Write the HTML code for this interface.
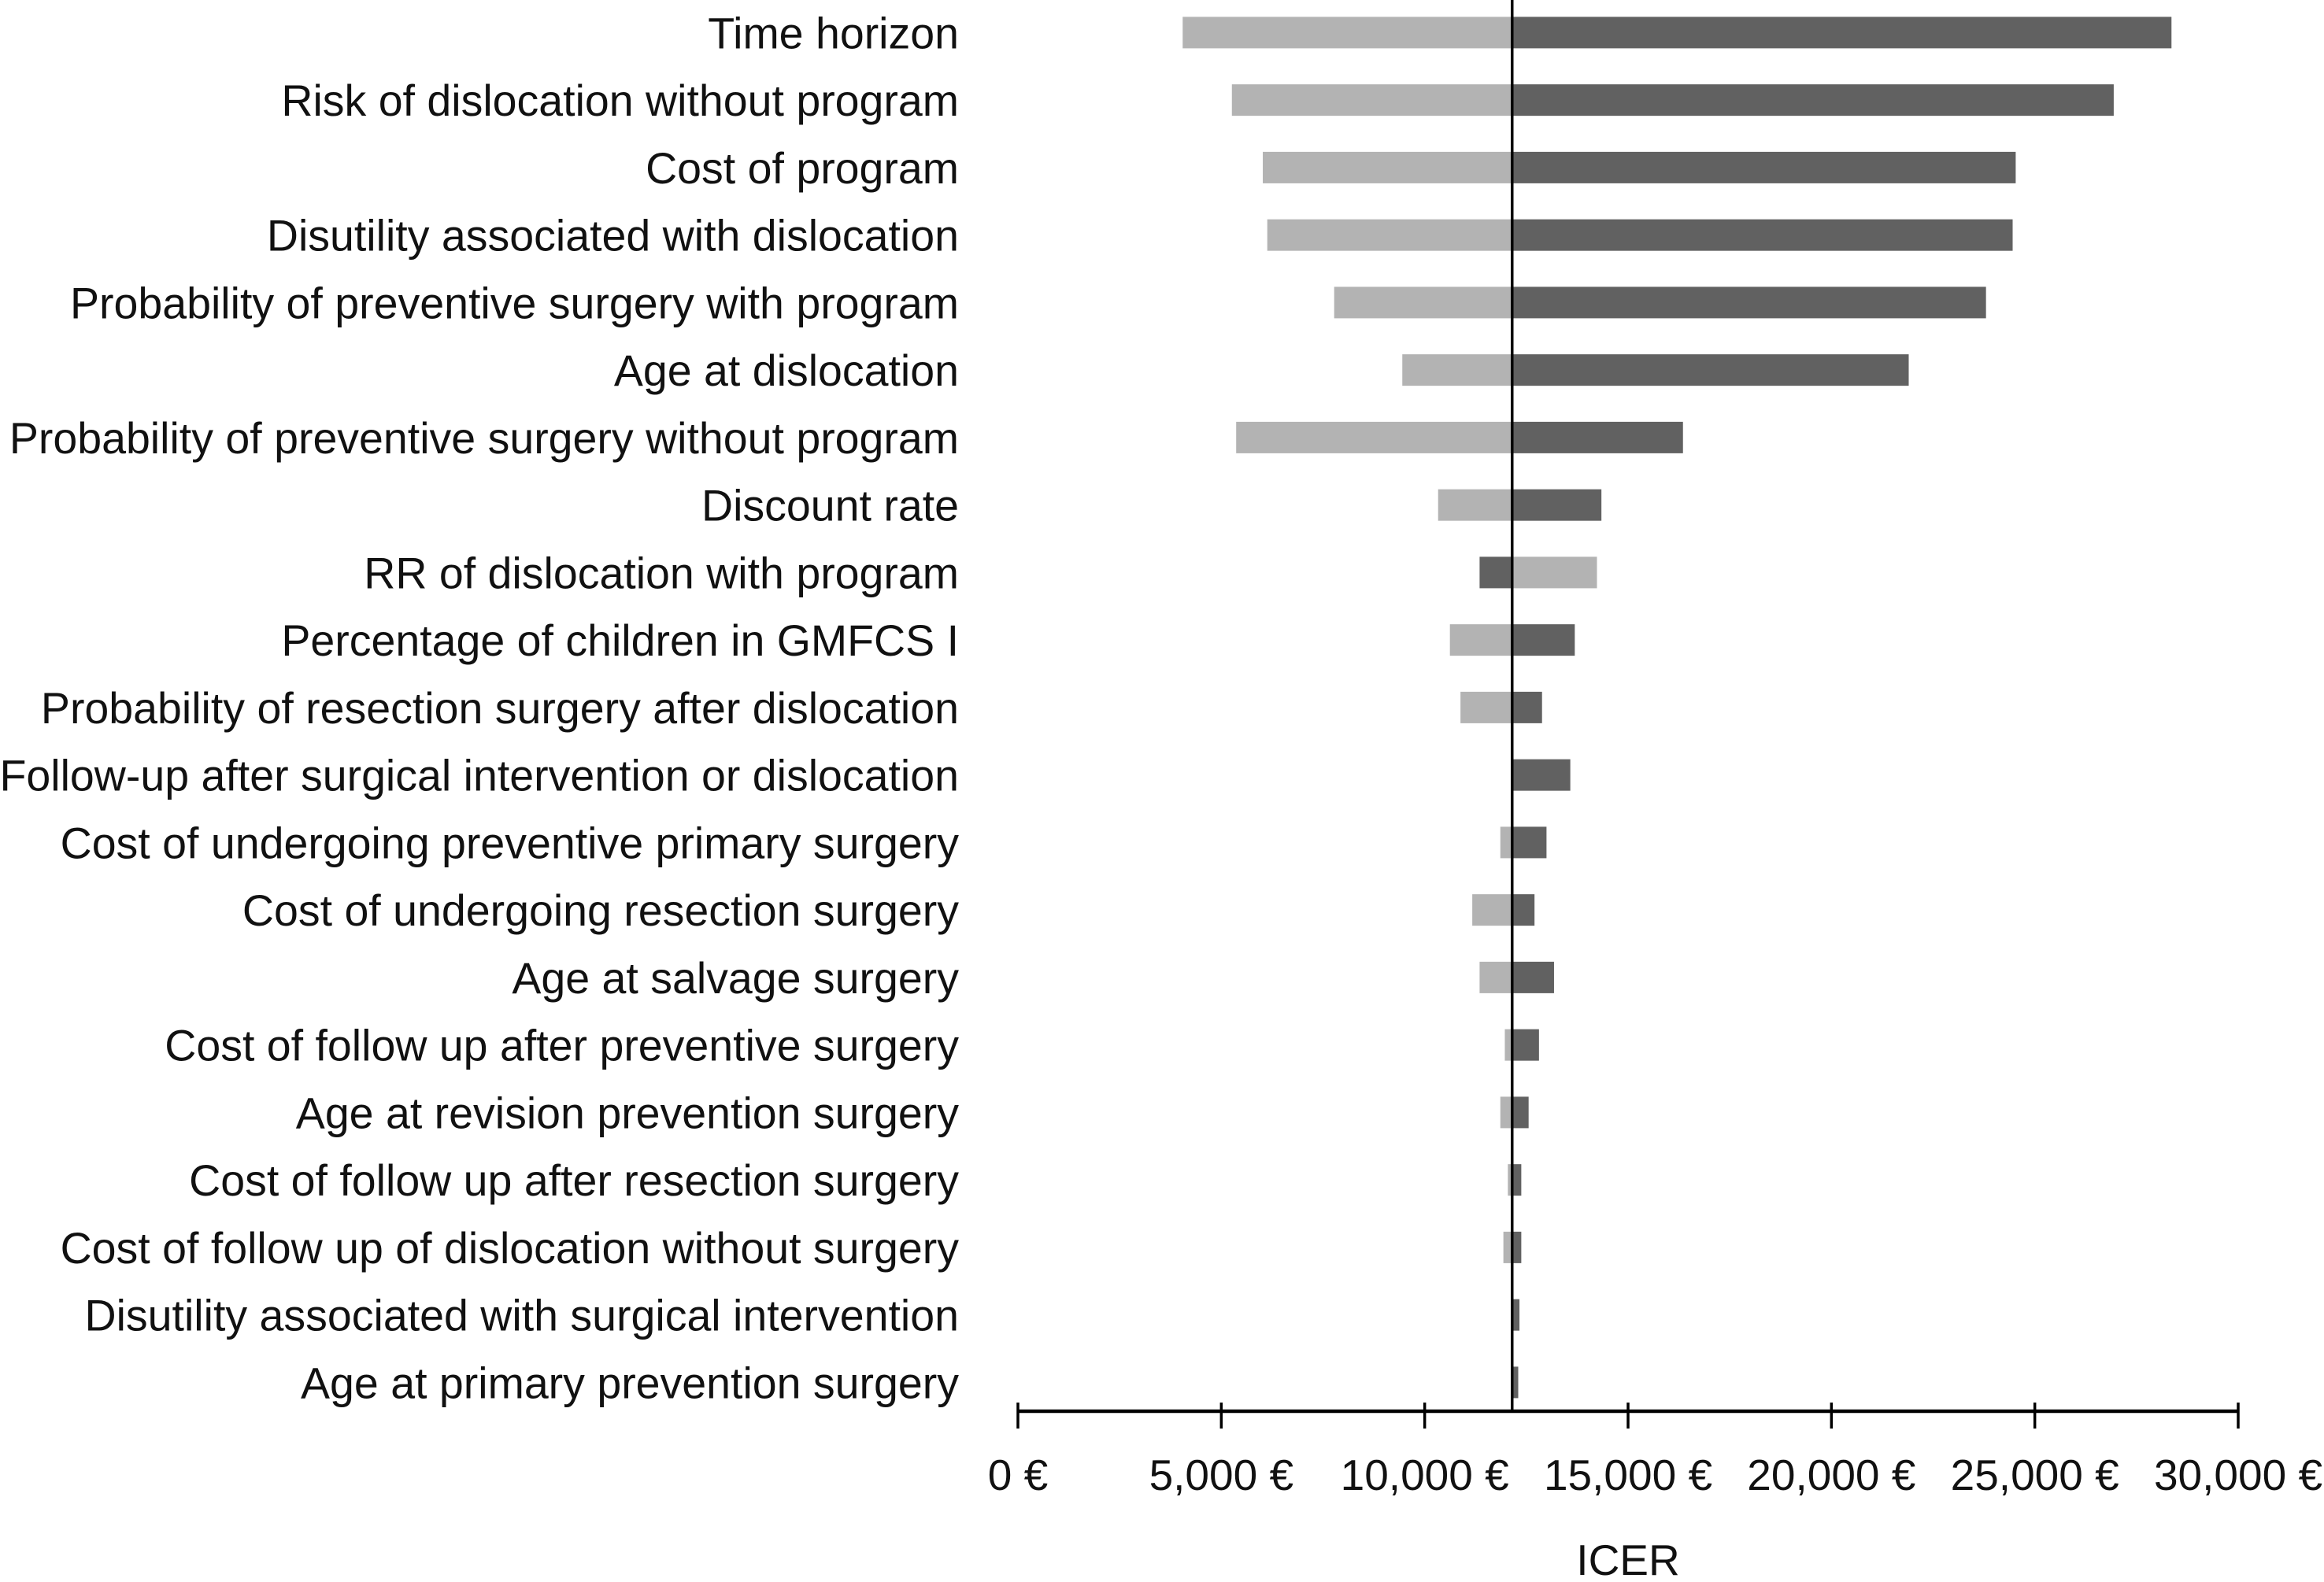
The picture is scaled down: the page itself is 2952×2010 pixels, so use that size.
<!DOCTYPE html>
<html><head><meta charset="utf-8"><style>
html,body{margin:0;padding:0;background:#fff;}
svg{display:block;font-family:"Liberation Sans",Arial,sans-serif;}
</style></head><body>
<svg id="chart" width="2952" height="2010" viewBox="0 0 2952 2010">
<g id="bars"></g>
<g id="labels"></g>
<g id="axis"></g>
</svg>
<script>
const categories = ["Time horizon","Risk of dislocation without program","Cost of program","Disutility associated with dislocation","Probability of preventive surgery with program","Age at dislocation","Probability of preventive surgery without program","Discount rate","RR of dislocation with program","Percentage of children in GMFCS I","Probability of resection surgery after dislocation","Follow-up after surgical intervention or dislocation","Cost of undergoing preventive primary surgery","Cost of undergoing resection surgery","Age at salvage surgery","Cost of follow up after preventive surgery","Age at revision prevention surgery","Cost of follow up after resection surgery","Cost of follow up of dislocation without surgery","Disutility associated with surgical intervention","Age at primary prevention surgery"];
const lowValues = [4050,5260,6020,6130,7775,9450,5365,10330,14235,10620,10880,12150,11860,11170,11350,11970,11860,12045,11935,12150,12150];
const highValues = [28360,26940,24530,24455,23800,21900,16350,14345,11350,13690,12885,13580,12995,12700,13180,12810,12555,12375,12375,12330,12300];
const baseValue = 12150;
const tickValues = [0,5000,10000,15000,20000,25000,30000];
const tickLabels = ["0 €","5,000 €","10,000 €","15,000 €","20,000 €","25,000 €","30,000 €"];

const NS="http://www.w3.org/2000/svg";
const x0=1293, x1=2843, vMax=30000;
const xs = v => x0 + (v/vMax)*(x1-x0);
const rowY = i => 41.4 + i*85.75;
const barH = 40, axisY = 1793;
function mk(tag, attrs, parent){const e=document.createElementNS(NS,tag);for(const k in attrs)e.setAttribute(k,attrs[k]);parent.appendChild(e);return e;}
const gb=document.getElementById('bars'), gl=document.getElementById('labels'), ga=document.getElementById('axis');
const bx=xs(baseValue);
categories.forEach((c,i)=>{
  const y=rowY(i);
  const lo=lowValues[i], hi=highValues[i];
  if(lo!==baseValue){
    const r=mk('rect',{x:Math.min(xs(lo),bx),y:y-barH/2,width:Math.abs(xs(lo)-bx),height:barH,fill:'#b3b3b3'},gb);
    
    
  }
  if(hi!==baseValue){
    const r=mk('rect',{x:Math.min(xs(hi),bx),y:y-barH/2,width:Math.abs(xs(hi)-bx),height:barH,fill:'#616161'},gb);
    
    
  }
  const t=mk('text',{x:1218,y:y+20,'text-anchor':'end','font-size':55.5,fill:'#111'},gl);
  t.textContent=c;
  
  
});
const bl=mk('line',{x1:bx,y1:0,x2:bx,y2:axisY,stroke:'#000','stroke-width':3.5},gb);


const al=mk('line',{x1:x0,y1:axisY,x2:x1,y2:axisY,stroke:'#000','stroke-width':4.5},ga);


tickValues.forEach((v,i)=>{
  const tk=mk('line',{x1:xs(v),y1:1782,x2:xs(v),y2:1815,stroke:'#000','stroke-width':3.5},ga);
  
  
  const tl=mk('text',{x:xs(v),y:1893,'text-anchor':'middle','font-size':55,fill:'#111'},ga);
  tl.textContent=tickLabels[i];
  
  
});
const at=mk('text',{x:2068,y:2001,'text-anchor':'middle','font-size':55,fill:'#111'},ga);
at.textContent='ICER';


</script>
</body></html>
